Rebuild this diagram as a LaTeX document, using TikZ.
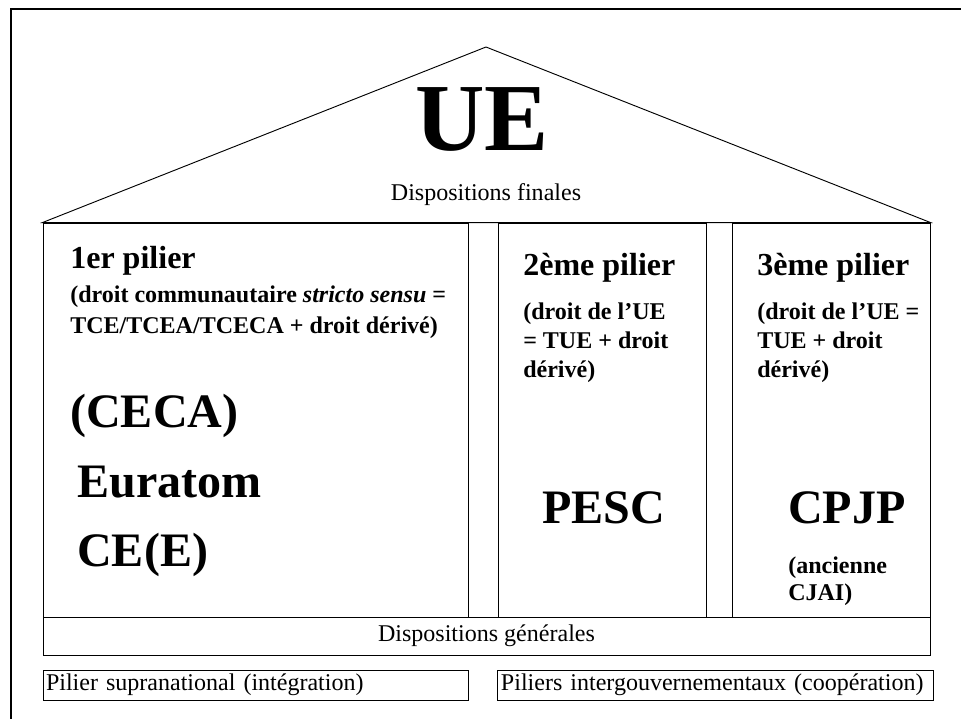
\documentclass[tikz,border=0pt]{standalone}
\usepackage{fontspec}
\setmainfont{Liberation Serif}
\usetikzlibrary{positioning}

\newcommand{\pxl}{0.7492pt}

\begin{document}
\begin{tikzpicture}[x=0.7492pt, y=-0.7492pt,
    box/.style={draw, line width=0.7pt, inner sep=0pt},
    pillartitle/.style={font=\bfseries\fontsize{24}{28}\selectfont, anchor=base west, inner sep=0pt},
    pillartext/.style={font=\bfseries\fontsize{18}{21.4}\selectfont, align=left, anchor=base west, inner sep=0pt},
    bigname/.style={font=\bfseries\fontsize{36}{40}\selectfont, anchor=base west, inner sep=0pt},
    plaintext/.style={font=\fontsize{18}{21}\selectfont}]
    \useasboundingbox (0,0) rectangle (961,719);

    % Slide frame
    \draw[line width=1.5pt] (961,8.5) -- (11,8.5) -- (11,719);

    % Three pillars
    \node[box, minimum width=425*\pxl, minimum height=394*\pxl] (pil1) at (255.5,420) {};
    \node[box, minimum width=208*\pxl, minimum height=394*\pxl] (pil2) at (602,420) {};
    \node[box, minimum width=198*\pxl, minimum height=394*\pxl] (pil3) at (831,420) {};

    % Roof
    \coordinate (apex) at (486,47);
    \draw[line width=0.7pt] (pil1.north west) -- (apex) -- (pil3.north east) -- cycle;
    \node[font=\bfseries\fontsize{72}{80}\selectfont, anchor=base, inner sep=0pt] (ue) at (482,150) {UE};
    \node[plaintext, anchor=base, inner sep=0pt] (dfin) at (486,200) {Dispositions finales};

    % 1er pilier (multi-line texts sit on their last line)
    \node[pillartitle] (t1) at (70,268) {1er pilier};
    \node[pillartext, font=\bfseries\fontsize{18}{22.5}\selectfont] (d1) at (70,333)
        {(droit communautaire \textit{stricto sensu} =\\TCE/TCEA/TCECA + droit dérivé)};
    \node[bigname] (ceca) at (70,427) {(CECA)};
    \node[bigname] (euratom) at (77,497) {Euratom};
    \node[bigname] (cee) at (77,566) {CE(E)};

    % 2eme pilier
    \node[pillartitle] (t2) at (523,275) {2ème pilier};
    \node[pillartext] (d2) at (523,377) {(droit de l’UE\\= TUE + droit\\dérivé)};
    \node[bigname] (pesc) at (542,523) {PESC};

    % 3eme pilier
    \node[pillartitle] (t3) at (757,275) {3ème pilier};
    \node[pillartext] (d3) at (757,377) {(droit de l’UE =\\TUE + droit\\dérivé)};
    \node[bigname] (cpjp) at (788,523) {CPJP};
    \node[pillartext, font=\bfseries\fontsize{18}{20.2}\selectfont] (cjai) at (788,600) {(ancienne\\CJAI)};

    % Foundation
    \node[box, plaintext, minimum width=887*\pxl, minimum height=38*\pxl] (dgen) at (486.5,636) {Dispositions générales};

    % Legend
    \node[box, plaintext, minimum height=30*\pxl, inner xsep=2.25pt, text width=313.9pt, align=left]
        (supra) at (255.5,685) {Pilier supranational (intégration)};
    \node[box, plaintext, minimum height=30*\pxl, inner xsep=3pt, text width=320.7pt, align=left]
        (inter) at (715,685) {Piliers intergouvernementaux (coopération)};
\end{tikzpicture}
\end{document}
